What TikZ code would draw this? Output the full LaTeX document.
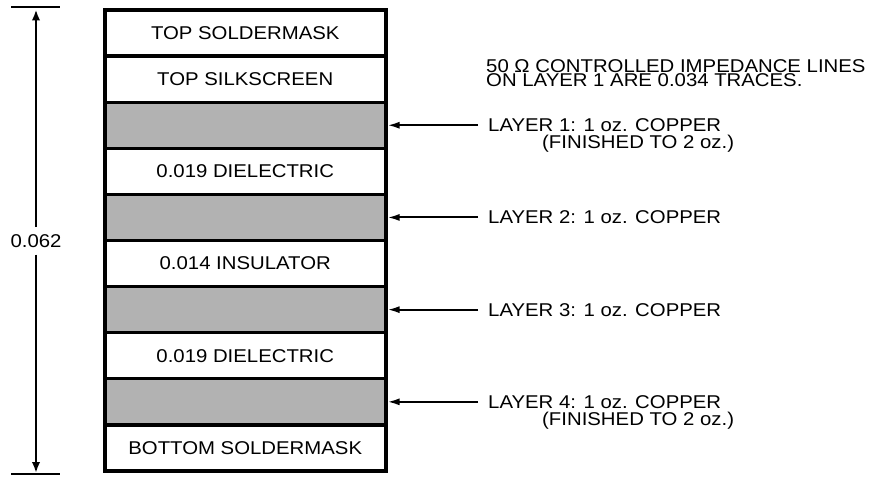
\documentclass[tikz,border=0pt]{standalone}
\usepackage{fontspec}
\setmainfont{Liberation Sans}[FakeStretch=1.1]
\usetikzlibrary{positioning,arrows.meta}

\begin{document}
\begin{tikzpicture}[x=1pt,y=1pt,
  font=\fontsize{18.5}{18.5}\selectfont,
  layer/.style={draw,line width=3.3pt,minimum width=281.5pt,
    minimum height=46.1pt,outer sep=0pt,inner sep=0pt},
  copper/.style={layer,fill=black!30},
  callout/.style={inner xsep=10pt,inner ysep=0pt},
  note/.style={anchor=base west,inner sep=0pt},
  lead/.style={line width=2pt,shorten >=1.5pt,-{Latex[length=12pt,width=7pt]}},
  dim/.style={line width=2.5pt,-{Latex[length=11pt,width=8.5pt]}}]
  \useasboundingbox (0,0) rectangle (878,477);
  \node[layer] (soldtop) at (245.25,443.95) {TOP SOLDERMASK};
  \node[layer,below=0pt of soldtop] (silk) {TOP SILKSCREEN};
  \node[copper,below=0pt of silk] (cu1) {};
  \node[layer,below=0pt of cu1] (diel1) {0.019 DIELECTRIC};
  \node[copper,below=0pt of diel1] (cu2) {};
  \node[layer,below=0pt of cu2] (ins) {0.014 INSULATOR};
  \node[copper,below=0pt of ins] (cu3) {};
  \node[layer,below=0pt of cu3] (diel2) {0.019 DIELECTRIC};
  \node[copper,below=0pt of diel2] (cu4) {};
  \node[layer,below=0pt of cu4] (soldbot) {BOTTOM SOLDERMASK};
  \draw[line width=4pt] (soldtop.north west) rectangle (soldbot.south east);

  \node[anchor=north west,inner sep=0pt,align=left,
    font=\fontsize{18.5}{14.5}\selectfont] (imp) at (486,418)
    {50 Ω CONTROLLED IMPEDANCE LINES\\ON LAYER 1 ARE 0.034 TRACES.};

  \node[callout,right=92pt of cu1] (lay1) {LAYER 1: 1 oz. COPPER};
  \node[note] (fin1) at ([xshift=64pt,yshift=-17pt]lay1.base west) {(FINISHED TO 2 oz.)};
  \node[callout,right=92pt of cu2] (lay2) {LAYER 2: 1 oz. COPPER};
  \node[callout,right=92pt of cu3] (lay3) {LAYER 3: 1 oz. COPPER};
  \node[callout,right=92pt of cu4] (lay4) {LAYER 4: 1 oz. COPPER};
  \node[note] (fin4) at ([xshift=64pt,yshift=-17pt]lay4.base west) {(FINISHED TO 2 oz.)};
  \draw[lead] (lay1.west) -- (cu1.east);
  \draw[lead] (lay2.west) -- (cu2.east);
  \draw[lead] (lay3.west) -- (cu3.east);
  \draw[lead] (lay4.west) -- (cu4.east);

  \node[inner ysep=7pt] (thick) at (36,236) {0.062};
  \coordinate (dimtop) at (36,470);
  \coordinate (dimbot) at (36,3);
  \draw[line width=2.6pt] ([xshift=-25pt]dimtop) -- ([xshift=24pt]dimtop);
  \draw[line width=2.6pt] ([xshift=-25pt]dimbot) -- ([xshift=24pt]dimbot);
  \draw[dim,shorten >=2.5pt] (thick) -- (dimtop);
  \draw[dim,shorten >=1pt] (thick) -- (dimbot);
\end{tikzpicture}
\end{document}
